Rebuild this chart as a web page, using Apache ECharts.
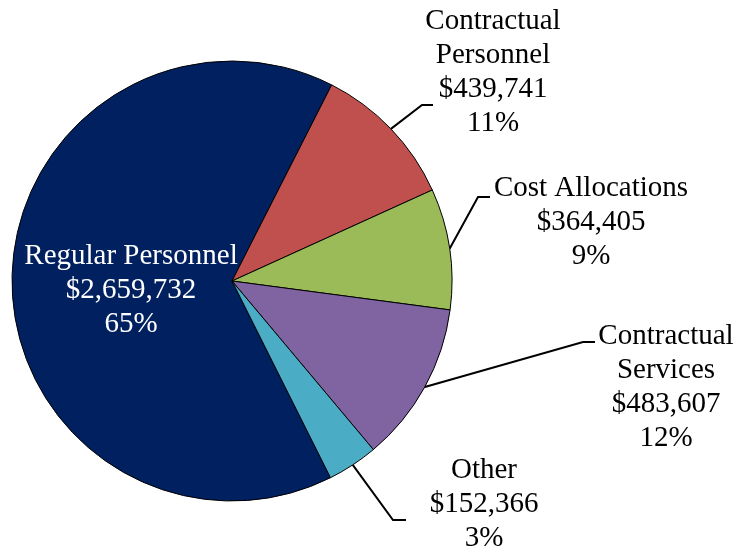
<!DOCTYPE html>
<html>
<head>
<meta charset="utf-8">
<style>
  html, body { margin: 0; padding: 0; background: #fff; }
  #chart { width: 740px; height: 548px; }
</style>
<script src="https://cdn.jsdelivr.net/npm/echarts@6/dist/echarts.min.js"></script>
</head>
<body>
<div id="chart"></div>
<script>
// data
var categories = ['Regular Personnel', 'Contractual\nPersonnel', 'Cost Allocations', 'Contractual\nServices', 'Other']
var amounts = [2659732, 439741, 364405, 483607, 152366]
var percents = [65, 11, 9, 12, 3]
var colors = ['#002060', '#C0504D', '#9BBB59', '#8064A2', '#4BACC6']

// label placement: centre of text block, then leader line elbow and end
var labelCenters = [[131, 290], [493, 72], [591, 222], [666, 387], [484, 504]]
var leaderBends = [null, [[422, 105], [433, 105]], [[478, 197], [490, 197]], [[583, 342], [595, 342]], [[393, 520], [406, 520]]]

var chart = echarts.init(document.getElementById('chart'))

var seriesData = categories.map(function (name, i) {
  var item = {
    name: name,
    value: amounts[i],
    itemStyle: { color: colors[i] }
  }
  if (i === 0) {
    // big slice keeps its label inside, in white
    item.label = { position: 'inside', color: '#fff' }
    item.labelLine = { show: false }
  }
  return item
})

var option = {
  animation: false,
  backgroundColor: '#fff',
  series: [{
    type: 'pie',
    center: [232, 281],
    radius: 220,
    startAngle: 296.6,
    clockwise: true,
    data: seriesData,
    itemStyle: { borderColor: '#000', borderWidth: 1 },
    label: {
      show: true,
      position: 'outside',
      fontFamily: '"Liberation Serif", "Times New Roman", serif',
      fontSize: 29,
      lineHeight: 34,
      color: '#000',
      align: 'center',
      formatter: function (p) {
        return p.name + '\n$' + p.value.toLocaleString('en-US') + '\n' + percents[p.dataIndex] + '%'
      }
    },
    labelLine: {
      show: true,
      lineStyle: { color: '#000', width: 2 }
    },
    labelLayout: function (params) {
      var i = params.dataIndex
      var c = labelCenters[i]
      var res = { x: c[0], y: c[1], align: 'center', verticalAlign: 'middle' }
      if (leaderBends[i] && params.labelLinePoints) {
        res.labelLinePoints = [params.labelLinePoints[0], leaderBends[i][0], leaderBends[i][1]]
      }
      return res
    }
  }]
}

chart.setOption(option)
</script>
</body>
</html>
